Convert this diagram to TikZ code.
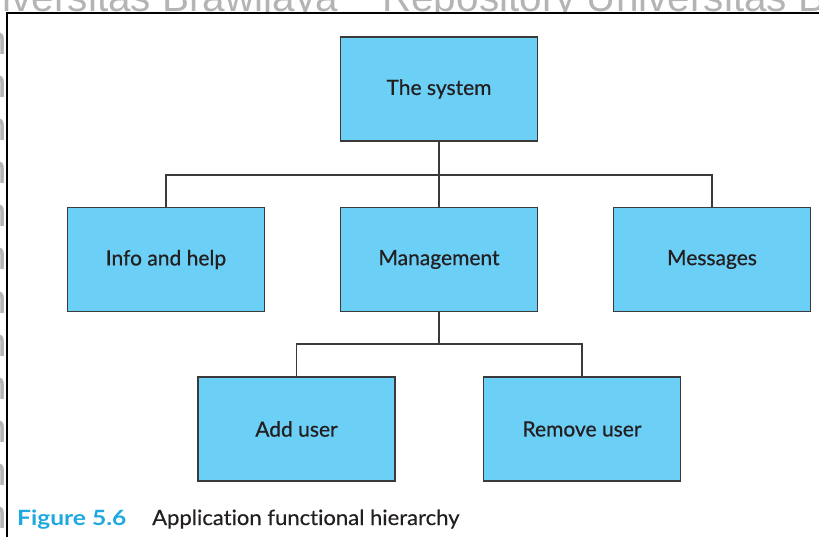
\documentclass[tikz,border=0pt]{standalone}
\usepackage{fontspec}
\setmainfont{Lato}[Ligatures=NoCommon]
\newfontfamily\labelfont{Lato}[Ligatures=NoCommon, FakeBold=0.6]
\newfontfamily\capfont{Lato}[Ligatures=NoCommon, FakeBold=0.4, FakeStretch=1.05]
\newfontfamily\capnumfont{Lato Bold}[Ligatures=NoCommon, FakeStretch=1.17]
\newfontfamily\wmfont{Liberation Sans}
\definecolor{boxfill}{HTML}{6BCFF6}
\definecolor{boxline}{HTML}{3A3A3A}
\definecolor{capblue}{HTML}{1FA9E1}
\definecolor{wmgray}{HTML}{B4B4B4}
\definecolor{ink}{HTML}{231F20}

\begin{document}
\begin{tikzpicture}[x=1pt,y=-1pt,
  unit/.style={draw=boxline, line width=1.4pt, fill=boxfill,
    minimum width=197pt, minimum height=104pt, inner sep=0pt,
    font=\labelfont\fontsize{21}{25}\selectfont, text=ink},
  link/.style={draw=boxline, line width=1.3pt},
  wm/.style={anchor=base west, inner sep=0pt, text=wmgray,
    font=\wmfont\fontsize{40.5}{40}\selectfont},
  captext/.style={anchor=base west, inner sep=0pt}]

\useasboundingbox (0,0) rectangle (819,537);
\clip (0,0) rectangle (819,537);

% repository watermark behind the figure
\foreach \k in {0,...,12} {
  \pgfmathsetmacro{\yy}{12+43*\k}
  \pgfmathsetmacro{\xs}{\k==0 ? 0 : 4}
  \node[wm] (wmA\k) at (-254+\xs,\yy) {Repository Universitas Brawijaya};
  \node[wm] (wmB\k) at (382+\xs,\yy) {Repository Universitas Brawijaya};
}

% figure panel with its top and left rule
\fill[white] (7,13) rectangle (819,537);
\draw[line width=2pt] (7,537) -- (7,13) -- (819,13);

% hierarchy boxes
\node[unit] (sys)  at (439,89)    {The system};
\node[unit] (info) at (166,259.5) {Info and help};
\node[unit] (mgmt) at (439,259.5) {Management};
\node[unit] (msg)  at (712,259.5) {Messages};
\node[unit] (add)  at (296.5,429) {Add user};
\node[unit] (rem)  at (582,429)   {Remove user};

% tree connectors
\coordinate (busA) at (439,175);
\coordinate (busB) at (439,344);
\draw[link] (sys.south) -- (mgmt.north);
\draw[link] (info.north) |- (busA) -| (msg.north);
\draw[link] (mgmt.south) -- (busB);
\draw[link] (add.north) |- (busB) -| (rem.north);

% caption
\node[captext, font=\capnumfont\fontsize{21}{25}\selectfont, text=capblue] (fignum) at (17,525) {Figure 5.6};
\node[captext, font=\capfont\fontsize{21}{25}\selectfont, text=ink] (figcap) at (152,525) {Application functional hierarchy};
\end{tikzpicture}
\end{document}
